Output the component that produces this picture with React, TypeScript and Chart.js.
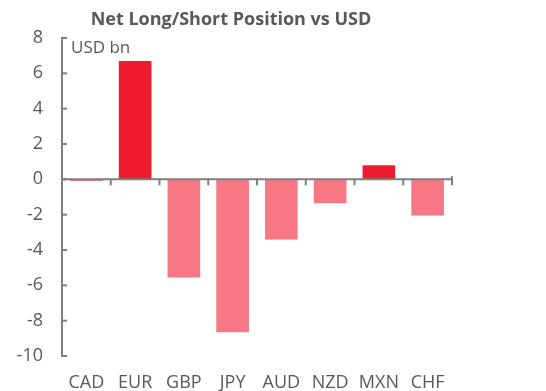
import React, { useEffect, useRef } from "react";
import { Chart, registerables } from "chart.js";

Chart.register(...registerables);

const categories = ["CAD", "EUR", "GBP", "JPY", "AUD", "NZD", "MXN", "CHF"];
const positions = [-0.1, 6.7, -5.55, -8.65, -3.4, -1.35, 0.8, -2.05];
const yTicks = [8, 6, 4, 2, 0, -2, -4, -6, -8, -10];
const titleText = "Net Long/Short Position vs USD";
const unitText = "USD bn";

const RED = "#EE1C2F";
const PINK = "#F87785";
const AXIS = "#7F7F7F";
const TEXT = "#595959";
const FONT = "'Open Sans', sans-serif";

export default function App() {
  const ref = useRef<HTMLCanvasElement | null>(null);

  useEffect(() => {
    document.body.style.margin = "0";
    const canvas = ref.current!;
    const axesPlugin = {
      id: "customAxes",
      afterDatasetsDraw(chart: any) {
        const ctx = chart.ctx;
        const x = chart.scales.x;
        const y = chart.scales.y;
        const area = chart.chartArea;
        ctx.save();
        ctx.strokeStyle = AXIS;
        ctx.lineWidth = 2;
        const top = y.getPixelForValue(yTicks[0]);
        const bottom = y.getPixelForValue(yTicks[yTicks.length - 1]);
        ctx.beginPath();
        ctx.moveTo(area.left, top - 1);
        ctx.lineTo(area.left, bottom + 1);
        ctx.stroke();
        yTicks.forEach((v) => {
          const py = y.getPixelForValue(v);
          ctx.beginPath();
          ctx.moveTo(area.left, py);
          ctx.lineTo(area.left + 5, py);
          ctx.stroke();
        });
        const zy = y.getPixelForValue(0);
        ctx.beginPath();
        ctx.moveTo(area.left, zy);
        ctx.lineTo(area.right, zy);
        ctx.stroke();
        const n = categories.length;
        const step = x.getPixelForValue(1) - x.getPixelForValue(0);
        for (let i = 1; i <= n; i++) {
          const px = x.getPixelForValue(i - 1) + step / 2;
          ctx.beginPath();
          ctx.moveTo(px, i === n ? zy - 3 : zy);
          ctx.lineTo(px, zy + 6);
          ctx.stroke();
        }
        ctx.fillStyle = TEXT;
        ctx.font = `bold 18px ${FONT}`;
        ctx.textAlign = "center";
        ctx.textBaseline = "alphabetic";
        ctx.fillText(titleText, 231, 25);
        ctx.font = `17px ${FONT}`;
        ctx.textAlign = "left";
        ctx.fillText(unitText, 71, 53);
        ctx.restore();
      },
    };

    const chart = new Chart(canvas, {
      type: "bar",
      data: {
        labels: categories,
        datasets: [
          {
            data: positions,
            backgroundColor: positions.map((v) => (v >= 0 ? RED : PINK)),
            borderWidth: 0,
            barPercentage: 0.67,
            categoryPercentage: 1,
          },
        ],
      },
      options: {
        animation: false,
        responsive: false,
        maintainAspectRatio: false,
        layout: { padding: { left: 0, right: 94, top: 38, bottom: 0 } },
        plugins: {
          legend: { display: false },
          title: { display: false },
          tooltip: { enabled: false },
        },
        scales: {
          x: {
            afterFit: (s: any) => {
              s.height = 35;
            },
            grid: { display: false, drawTicks: false },
            border: { display: false },
            ticks: {
              color: TEXT,
              font: { family: FONT, size: 18 },
              padding: 16,
              maxRotation: 0,
              autoSkip: false,
            },
          },
          y: {
            min: -10,
            max: 8,
            afterFit: (s: any) => {
              s.width = 62;
            },
            afterBuildTicks: (s: any) => {
              s.ticks = yTicks.map((v) => ({ value: v }));
            },
            grid: { display: false, drawTicks: false },
            border: { display: false },
            ticks: {
              color: TEXT,
              font: { family: FONT, size: 18 },
              padding: 19,
            },
          },
        },
      },
      plugins: [axesPlugin],
    });
    return () => chart.destroy();
  }, []);

  return (
    <div style={{ width: 546, height: 391 }}>
      <canvas ref={ref} width={546} height={391} />
    </div>
  );
}
